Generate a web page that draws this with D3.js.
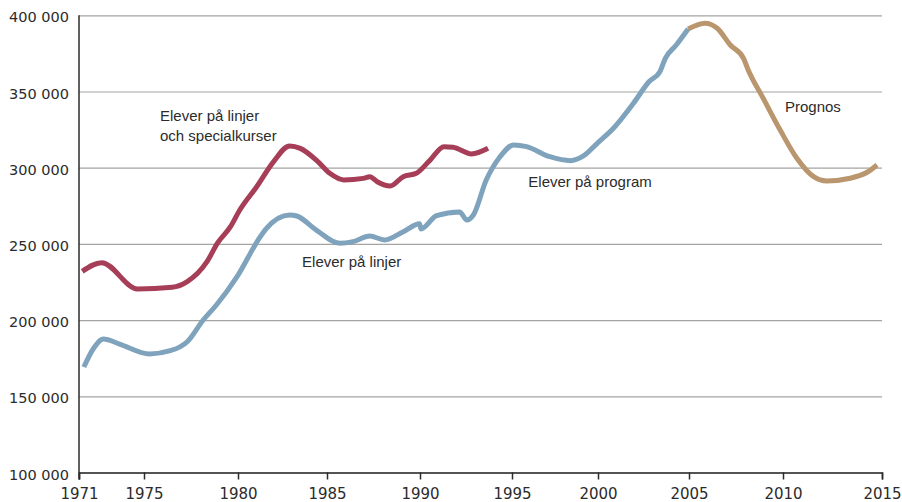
<!DOCTYPE html>
<html>
<head>
<meta charset="utf-8">
<script src="https://cdn.jsdelivr.net/npm/d3@7"></script>
<style>
  body { margin: 0; background: #fff; }
  .tick text { font-family: "DejaVu Sans", sans-serif; fill: #2b2b2b; }
  .label { font-family: "Liberation Sans", Arial, sans-serif; font-size: 15px; fill: #2b2b2b; }
</style>
</head>
<body>
<div class="chart_wrapper"></div>
<script>
// year, number of pupils
const linjerSpecial = [
  [1971.2, 232000], [1972.4, 237700], [1974.6, 220400], [1976.5, 221500],
  [1977.3, 225200], [1978.35, 238300], [1978.9, 250400], [1979.6, 261300],
  [1980.1, 272200], [1981.05, 287500], [1982.0, 304000], [1982.9, 314300],
  [1983.5, 312700], [1984.4, 305000], [1985.15, 296300], [1985.9, 292000],
  [1986.95, 293000], [1987.3, 294100], [1987.7, 290800], [1988.4, 288000],
  [1989.1, 294100], [1989.8, 296300], [1990.55, 305000], [1991.3, 313800],
  [1991.8, 313400], [1992.8, 309000], [1993.7, 312700]
]

const linjerProgram = [
  [1971.3, 169200], [1971.9, 181500], [1972.5, 187600], [1973.5, 184300],
  [1975.3, 177800], [1976.4, 179900], [1977.3, 185800], [1978.15, 200100],
  [1978.85, 209900], [1979.95, 228500], [1981.25, 254700], [1981.6, 260200],
  [1982.9, 269000], [1983.3, 268300], [1984.4, 259100], [1985.7, 250400],
  [1986.4, 251500], [1987.3, 255200], [1988.1, 252600], [1989.1, 258000],
  [1989.98, 263300], [1990.05, 259800], [1990.9, 268500], [1992.15, 271000],
  [1992.55, 265700], [1992.9, 269000], [1993.6, 291900], [1994.35, 307200],
  [1995.1, 314900], [1995.85, 313800], [1997.2, 307200], [1998.4, 304600],
  [1999.15, 307700], [2000.0, 316500], [2000.85, 325900], [2001.95, 342300],
  [2002.8, 356400], [2003.4, 363000], [2003.7, 371800], [2004.3, 380500],
  [2004.95, 391000]
]

const prognos = [
  [2004.95, 391000], [2005.85, 394800], [2006.5, 391500], [2007.2, 380500],
  [2007.9, 371800], [2008.15, 364100], [2008.95, 345500], [2009.85, 324700],
  [2010.7, 306200], [2011.55, 294100], [2012.2, 291300], [2013.4, 293100],
  [2014.25, 297000], [2014.75, 301800]
]

const xTicks = [1971, 1975, 1980, 1985, 1990, 1995, 2000, 2005, 2010, 2015]
const yTicks = [100000, 150000, 200000, 250000, 300000, 350000, 400000]

const labels = [
  { text: ["Elever på linjer", "och specialkurser"], year: 1975.85, value: 330800 },
  { text: ["Elever på linjer"], year: 1983.6, value: 234700 },
  { text: ["Elever på program"], year: 1995.95, value: 287500 },
  { text: ["Prognos"], year: 2010.1, value: 336700 }
]

const dimensions = {
  width: 902,
  height: 502,
  margin: { top: 15, right: 20, bottom: 30, left: 79 }
}
dimensions.boundedWidth = dimensions.width - dimensions.margin.left - dimensions.margin.right
dimensions.boundedHeight = dimensions.height - dimensions.margin.top - dimensions.margin.bottom

const wrapper = d3.select(".chart_wrapper")
  .append("svg")
  .attr("width", dimensions.width)
  .attr("height", dimensions.height)

const bounds = wrapper.append("g")
  .attr("transform", `translate(${dimensions.margin.left},${dimensions.margin.top})`)

// the year axis in the original is not evenly spaced, so a polylinear scale
const xScale = d3.scaleLinear()
  .domain(xTicks)
  .range([0, 65, 159, 248, 341, 433, 519, 610, 704, 803])

const yScale = d3.scaleLinear()
  .domain([100000, 400000])
  .range([457.5, 0.3])

const fmt = d => d3.format(",")(d).replace(/,/g, " ")

// grid
const yAxis = d3.axisLeft(yScale)
  .tickValues(yTicks)
  .tickSize(-803)
  .tickPadding(10)
  .tickFormat(fmt)

const yAxisG = bounds.append("g").call(yAxis)
yAxisG.select(".domain").remove()
yAxisG.selectAll(".tick line")
  .attr("stroke", "#a4a4a2")
  .attr("stroke-width", 1.2)
yAxisG.selectAll(".tick text")
  .attr("font-size", "14.5px")
  .attr("dy", "0.45em")

// vertical axis line
bounds.append("line")
  .attr("x1", 0).attr("x2", 0)
  .attr("y1", yScale(400000)).attr("y2", yScale(100000) + 7)
  .attr("stroke", "#2b2b2b")
  .attr("stroke-width", 1.5)

const xAxis = d3.axisBottom(xScale)
  .tickValues(xTicks)
  .tickSize(7)
  .tickPadding(9)
  .tickFormat(d3.format("d"))

const xAxisG = bounds.append("g")
  .attr("transform", `translate(0,${yScale(100000)})`)
  .call(xAxis)
xAxisG.select(".domain")
  .attr("stroke", "#2b2b2b")
  .attr("stroke-width", 1.5)
xAxisG.selectAll(".tick line")
  .attr("stroke", "#2b2b2b")
  .attr("stroke-width", 1.5)
xAxisG.selectAll(".tick text")
  .attr("font-size", "15px")

const lineGen = d3.line()
  .x(d => xScale(d[0]))
  .y(d => yScale(d[1]))
  .curve(d3.curveMonotoneX)

const series = [
  { data: linjerSpecial, color: "#a63e58" },
  { data: linjerProgram, color: "#7fa3bc" },
  { data: prognos, color: "#b9966e" }
]

bounds.selectAll(".series")
  .data(series)
  .enter()
  .append("path")
    .attr("class", "series")
    .attr("d", d => lineGen(d.data))
    .attr("fill", "none")
    .attr("stroke", d => d.color)
    .attr("stroke-width", 5)
    .attr("stroke-linejoin", "round")

const labelG = bounds.selectAll(".label")
  .data(labels)
  .enter()
  .append("text")
    .attr("class", "label")
    .attr("x", d => xScale(d.year))
    .attr("y", d => yScale(d.value))

labelG.selectAll("tspan")
  .data(d => d.text.map(t => ({ t, x: xScale(d.year) })))
  .enter()
  .append("tspan")
    .attr("x", d => d.x)
    .attr("dy", (d, i) => i === 0 ? 0 : 20)
    .text(d => d.t)
</script>
</body>
</html>
